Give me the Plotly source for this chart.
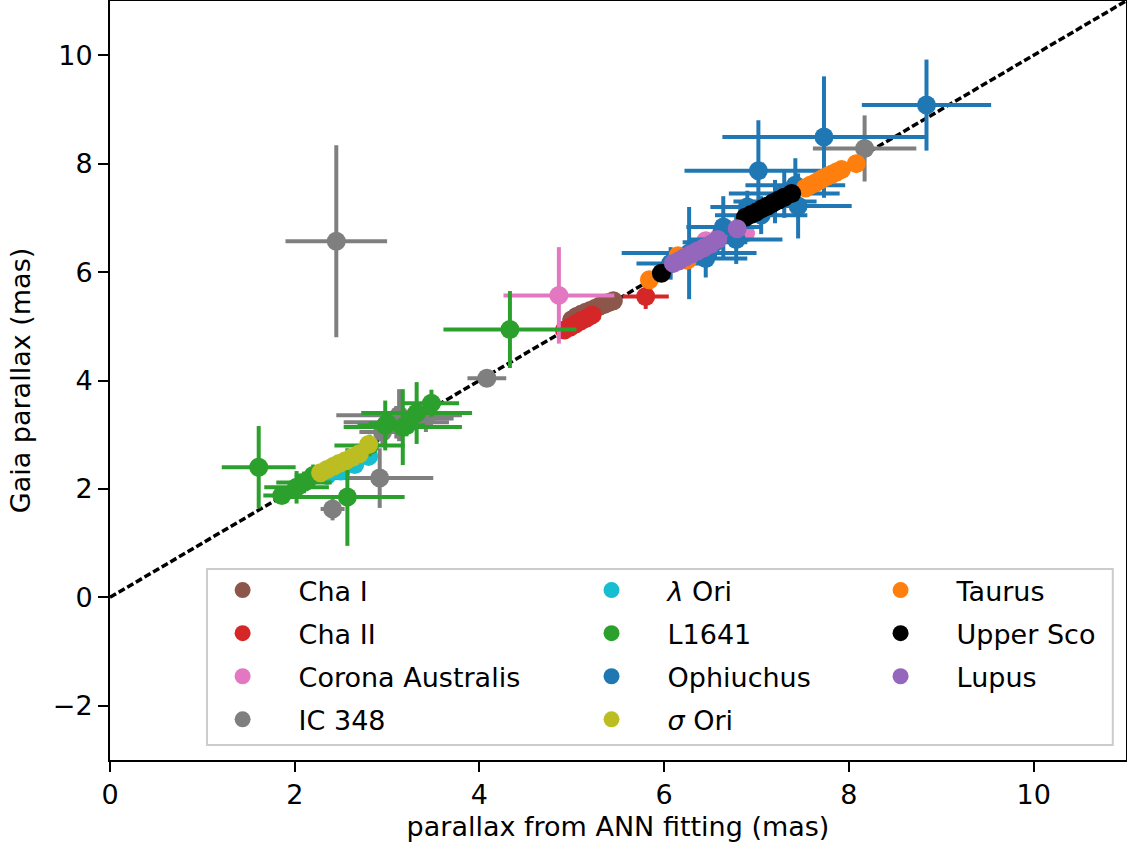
import plotly.graph_objects as go

# ---------------- data ----------------
CHA1_X = [5.00, 5.05, 5.10, 5.15, 5.20, 5.25, 5.30, 5.35, 5.40, 5.45]
CHA1_Y = [5.12, 5.18, 5.22, 5.26, 5.29, 5.33, 5.37, 5.40, 5.44, 5.47]
CHA1_XE = [0.10, 0.05, 0.08, 0.05, 0.12, 0.05, 0.06, 0.05, 0.05, 0.05]
CHA1_YE = [0.12, 0.05, 0.08, 0.06, 0.10, 0.05, 0.05, 0.05, 0.05, 0.05]

CHA2_X = [4.92, 4.98, 5.04, 5.10, 5.16, 5.22, 5.80]
CHA2_Y = [4.93, 4.98, 5.04, 5.10, 5.15, 5.21, 5.55]
CHA2_XE = [0.05, 0.05, 0.05, 0.05, 0.05, 0.05, 0.25]
CHA2_YE = [0.05, 0.05, 0.05, 0.05, 0.05, 0.05, 0.23]

CRA_X = [4.86, 6.45, 6.60, 6.88]
CRA_Y = [5.57, 6.58, 6.66, 6.72]
CRA_XE = [0.60, 0.08, 0.08, 0.10]
CRA_YE = [0.89, 0.08, 0.08, 0.08]

IC348_X = [2.45, 8.17, 4.08, 2.41, 2.92, 3.13, 3.10, 2.95, 3.42, 3.30]
IC348_Y = [6.57, 8.28, 4.04, 1.63, 2.20, 3.36, 3.23, 3.05, 3.30, 3.35]
IC348_XE = [0.55, 0.56, 0.21, 0.13, 0.58, 0.68, 0.57, 0.25, 0.30, 0.20]
IC348_YE = [1.77, 0.61, 0.15, 0.21, 0.55, 0.48, 0.30, 0.25, 0.25, 0.20]

LORI_X = [2.35, 2.50, 2.65, 2.80]
LORI_Y = [2.25, 2.33, 2.45, 2.60]
LORI_XE = [0.08, 0.08, 0.08, 0.08]
LORI_YE = [0.08, 0.08, 0.08, 0.08]

L1641_X = [1.61, 1.86, 2.02, 2.10, 2.20, 2.57, 2.81, 2.98, 3.00, 3.17, 3.21, 3.32, 3.48, 4.33]
L1641_Y = [2.40, 1.88, 2.03, 2.12, 2.25, 1.85, 2.80, 3.17, 3.21, 3.14, 3.17, 3.40, 3.58, 4.94]
L1641_XE = [0.40, 0.20, 0.35, 0.30, 0.20, 0.62, 0.38, 0.30, 0.20, 0.64, 0.20, 0.60, 0.30, 0.72]
L1641_YE = [0.76, 0.15, 0.30, 0.20, 0.20, 0.90, 0.20, 0.46, 0.20, 0.70, 0.20, 0.57, 0.25, 0.71]

OPH_X = [8.84, 7.73, 7.02, 7.42, 7.45, 7.20, 7.05, 6.90, 6.64, 6.78, 6.27, 6.07, 6.45, 6.55, 7.30]
OPH_Y = [9.08, 8.49, 7.87, 7.60, 7.22, 7.30, 7.05, 7.20, 6.83, 6.60, 6.35, 6.16, 6.25, 6.55, 7.45]
OPH_XE = [0.70, 1.10, 0.80, 0.54, 0.58, 0.45, 0.50, 0.40, 0.40, 0.50, 0.73, 0.37, 0.45, 0.35, 0.60]
OPH_YE = [0.84, 1.12, 0.93, 0.50, 0.60, 0.40, 0.35, 0.30, 0.57, 0.45, 0.85, 0.30, 0.35, 0.30, 0.45]

SORI_X = [2.28, 2.35, 2.42, 2.48, 2.55, 2.62, 2.70, 2.80]
SORI_Y = [2.30, 2.36, 2.42, 2.47, 2.52, 2.58, 2.65, 2.82]
SORI_XE = [0.05, 0.05, 0.05, 0.05, 0.05, 0.05, 0.05, 0.05]
SORI_YE = [0.05, 0.05, 0.05, 0.05, 0.05, 0.05, 0.05, 0.05]

TAU_X = [5.84, 6.15, 6.25, 7.53, 7.58, 7.63, 7.68, 7.72, 7.77, 7.82, 7.87, 7.92, 8.08]
TAU_Y = [5.86, 6.30, 6.22, 7.55, 7.60, 7.64, 7.69, 7.73, 7.77, 7.81, 7.85, 7.89, 8.00]
TAU_XE = [0.08] * 13
TAU_YE = [0.08] * 13

USCO_X = [5.97, 6.88, 6.94, 7.00, 7.06, 7.12, 7.18, 7.24, 7.30, 7.38]
USCO_Y = [5.98, 7.01, 7.06, 7.11, 7.17, 7.22, 7.28, 7.33, 7.38, 7.45]
USCO_XE = [0.05] * 10
USCO_YE = [0.05] * 10

LUP_X = [6.10, 6.16, 6.22, 6.29, 6.36, 6.43, 6.50, 6.58, 6.79]
LUP_Y = [6.16, 6.21, 6.27, 6.33, 6.39, 6.45, 6.51, 6.60, 6.80]
LUP_XE = [0.05] * 9
LUP_YE = [0.05] * 9

ONE_TO_ONE = [0, 11]

X_TICKS = [0, 2, 4, 6, 8, 10]
Y_TICKS = [-2, 0, 2, 4, 6, 8, 10]

# name, x, y, xerr, yerr, colour, legend column
SERIES = [
    ("Cha I", CHA1_X, CHA1_Y, CHA1_XE, CHA1_YE, "#8c564b", "legend"),
    ("Cha II", CHA2_X, CHA2_Y, CHA2_XE, CHA2_YE, "#d62728", "legend"),
    ("Corona Australis", CRA_X, CRA_Y, CRA_XE, CRA_YE, "#e377c2", "legend"),
    ("IC 348", IC348_X, IC348_Y, IC348_XE, IC348_YE, "#7f7f7f", "legend"),
    ("<i>λ</i> Ori", LORI_X, LORI_Y, LORI_XE, LORI_YE, "#17becf", "legend2"),
    ("L1641", L1641_X, L1641_Y, L1641_XE, L1641_YE, "#2ca02c", "legend2"),
    ("Ophiuchus", OPH_X, OPH_Y, OPH_XE, OPH_YE, "#1f77b4", "legend2"),
    ("<i>σ</i> Ori", SORI_X, SORI_Y, SORI_XE, SORI_YE, "#bcbd22", "legend2"),
    ("Taurus", TAU_X, TAU_Y, TAU_XE, TAU_YE, "#ff7f0e", "legend3"),
    ("Upper Sco", USCO_X, USCO_Y, USCO_XE, USCO_YE, "#000000", "legend3"),
    ("Lupus", LUP_X, LUP_Y, LUP_XE, LUP_YE, "#9467bd", "legend3"),
]

FONT = dict(family="DejaVu Sans", size=27, color="black")

fig = go.Figure()

fig.add_trace(go.Scatter(
    x=ONE_TO_ONE, y=ONE_TO_ONE, mode="lines",
    line=dict(color="black", width=3.5, dash="7px,3px"),
    showlegend=False, hoverinfo="skip",
))

for name, xs, ys, xe, ye, col, leg in SERIES:
    fig.add_trace(go.Scatter(
        x=xs, y=ys, mode="markers", name=name, legend=leg,
        legendgroup=name,
        marker=dict(color=col, size=19, line=dict(width=0)),
        error_x=dict(type="data", array=xe, visible=True, color=col, thickness=4, width=0),
        error_y=dict(type="data", array=ye, visible=True, color=col, thickness=4, width=0),
    ))

axis_common = dict(
    showline=True, linecolor="black", linewidth=2, mirror=True,
    ticks="outside", ticklen=10, tickwidth=2, tickcolor="black",
    showgrid=False, zeroline=False, tickfont=FONT, automargin=False,
)

leg_common = dict(
    xanchor="left", yanchor="top", bgcolor="rgba(0,0,0,0)", borderwidth=0,
    font=FONT, itemwidth=102, traceorder="grouped", tracegroupgap=5,
)

fig.update_layout(
    width=1127, height=852,
    margin=dict(l=110, r=1, t=1, b=92),
    paper_bgcolor="white", plot_bgcolor="white",
    font=FONT,
    xaxis=dict(range=[0, 11], tickvals=X_TICKS,
               title=dict(text="parallax from ANN fitting (mas)", font=FONT, standoff=8),
               **axis_common),
    yaxis=dict(range=[-3, 11], tickvals=Y_TICKS,
               title=dict(text="Gaia parallax (mas)", font=FONT, standoff=14),
               **axis_common),
    legend=dict(x=0.0754, y=0.2556, **leg_common),
    legend2=dict(x=0.4385, y=0.2556, **leg_common),
    legend3=dict(x=0.723, y=0.2556, **leg_common),
    shapes=[dict(type="rect", xref="paper", yref="paper",
                 x0=0.0955, x1=0.987, y0=0.0198, y1=0.2516,
                 line=dict(color="#cccccc", width=2),
                 fillcolor="rgba(255,255,255,0.8)", layer="above")],
    showlegend=True,
)

fig.write_html(
    "out.html",
    config={"displayModeBar": False},
    post_script="document.body.style.margin='0';document.body.style.overflow='hidden';",
)
